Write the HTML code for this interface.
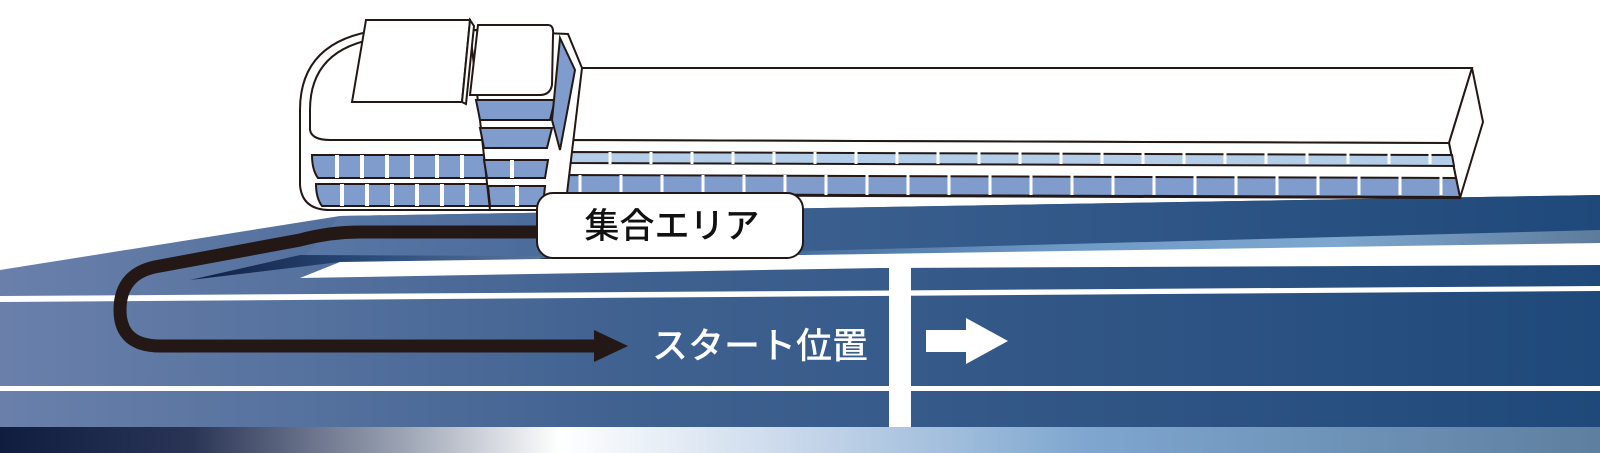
<!DOCTYPE html>
<html><head><meta charset="utf-8"><style>
html,body{margin:0;padding:0;background:#fff;}
svg{display:block}
text{font-family:"Liberation Sans","Noto Sans CJK JP",sans-serif;font-weight:500}
</style></head><body>
<svg width="1600" height="453" viewBox="0 0 1600 453" xmlns="http://www.w3.org/2000/svg">
<defs>
<linearGradient id="road" x1="0" x2="1" y1="0" y2="0">
<stop offset="0" stop-color="#6a80ab"/><stop offset="0.4" stop-color="#3f6190"/><stop offset="1" stop-color="#1f497a"/></linearGradient>
<linearGradient id="ramp" x1="0" x2="1"><stop offset="0" stop-color="#5a77a5"/><stop offset="0.4" stop-color="#3a5f8f"/><stop offset="1" stop-color="#1f497a"/></linearGradient>
<linearGradient id="band" x1="0" x2="1"><stop offset="0" stop-color="#0f1e42"/><stop offset="0.15" stop-color="#3a5f8f"/><stop offset="0.5" stop-color="#6f9ac6"/><stop offset="0.75" stop-color="#7ea7cf"/><stop offset="1" stop-color="#5d7c9c"/></linearGradient>
<linearGradient id="inner" x1="0" x2="1"><stop offset="0" stop-color="#0f1e42"/><stop offset="0.5" stop-color="#2a4a78"/><stop offset="1" stop-color="#56749c"/></linearGradient>
<linearGradient id="strip" x1="0" x2="1"><stop offset="0" stop-color="#101d3f"/><stop offset="0.12" stop-color="#2a3556"/><stop offset="0.25" stop-color="#9aa2b2"/><stop offset="0.35" stop-color="#ffffff"/><stop offset="0.5" stop-color="#c7d7ea"/><stop offset="0.68" stop-color="#7ea6cf"/><stop offset="1" stop-color="#5e7f9f"/></linearGradient>
</defs>
<polygon points="0,270 340,216 1600,195 1600,430 0,430" fill="url(#road)"/>
<polygon points="340,216 1600,195 1600,230 540,258 300,262" fill="url(#ramp)"/>
<polygon points="540,258 1600,230 1600,243 560,262" fill="url(#band)"/>
<polygon points="190,280 300,255 540,256 540,262 340,262" fill="url(#inner)"/>
<polygon points="300,278 340,262 1600,243 1600,265 880,268" fill="#fff"/>
<polygon points="0,296 1600,286 1600,291 0,302" fill="#fff"/>
<rect x="0" y="386" width="1600" height="5" fill="#fff"/>
<rect x="889" y="266" width="22" height="164" fill="#fff"/>
<rect x="0" y="427" width="1600" height="26" fill="url(#strip)"/>
<path d="M545,232 L360,232 Q330,232 300,240 L160,266 Q120,272 120,310 Q120,346 160,346 L598,346" fill="none" stroke="#231815" stroke-width="13"/>
<polygon points="594,330 628,346 594,362" fill="#231815"/>
<text x="652" y="358" font-size="36" fill="#fff">スタート位置</text>
<polygon points="926,330 966,330 966,318 1008,341 966,364 966,352 926,352" fill="#fff"/>
<g stroke="#231815" stroke-width="2">
<polygon points="580,68 1472,68 1449,143 570,140" fill="#fff"/>
<polygon points="1472,68 1483,122 1460,198 1449,143" fill="#fff"/>
<polygon points="568,140 1449,143 1460,198 565,195" fill="#fff"/>
<polygon points="568,152 1452,155 1454,166 568,163" fill="#b3cde8"/>
<polygon points="566,175 1456,178 1460,197 565,194" fill="#7f9ccc"/>
</g>
<g stroke="#fff" stroke-width="3">
<path d="M610,152v12M651,152v12M692,152v12M733,152v12M774,152v12M815,152v12M856,152v12M897,152v12M938,152v12M979,152v12M1020,152v12M1061,152v12M1102,152v12M1143,152v12M1184,152v12M1225,152v12M1266,152v12M1307,152v12M1348,152v12M1389,152v12M1430,152v12"/>
<path d="M580,175v20M621,175v20M662,175v20M703,175v20M744,175v20M785,175v20M826,175v20M867,175v20M908,175v20M949,175v20M990,175v20M1031,175v20M1072,175v20M1113,175v20M1154,175v20M1195,175v20M1236,175v20M1277,175v20M1318,175v20M1359,175v20M1400,175v20M1441,175v20"/>
</g>
<!-- left rounded block -->
<g stroke="#231815" stroke-width="2" fill="#fff">
<path d="M500,30 L380,30 Q300,40 300,110 L300,185 Q302,210 330,210 L500,210 Z"/>
<path d="M490,38 L380,38 Q310,48 310,110 L310,130 Q312,140 330,140 L490,140 Z"/>
<path d="M312,155 L490,155 L490,178 L318,178 Q312,170 312,155 Z" fill="#7f9ccc"/>
<path d="M316,184 L490,184 L490,206 L322,206 Q316,198 316,184 Z" fill="#7f9ccc"/>
<!-- tower -->
<path d="M470,30 L568,34 L582,68 L565,210 L490,210 Z" fill="#fff"/>
<path d="M476,100 L555,100 L550,120 L480,120 Z" fill="#7f9ccc"/>
<path d="M480,128 L552,128 L547,148 L484,148 Z" fill="#7f9ccc"/>
<path d="M484,160 L548,160 L545,178 L487,178 Z" fill="#7f9ccc"/>
<path d="M488,186 L545,186 L543,206 L490,206 Z" fill="#7f9ccc"/>
<path d="M560,38 L575,70 L560,150 L552,120 Z" fill="#7f9ccc"/>
<!-- top boxes -->
<polygon points="366,20 470,20 462,102 352,102" fill="#fff"/>
<polygon points="470,20 474,26 466,104 462,102" fill="#fff"/>
<path d="M478,25 L548,25 Q554,25 553,35 L552,85 Q550,95 540,95 L470,95 Z" fill="#fff"/>
</g>
<g fill="#fff">
<rect x="335" y="155" width="4" height="23"/><rect x="360" y="155" width="4" height="23"/><rect x="385" y="155" width="4" height="23"/><rect x="410" y="155" width="4" height="23"/><rect x="435" y="155" width="4" height="23"/><rect x="460" y="155" width="4" height="23"/><rect x="510" y="160" width="4" height="18"/>
<rect x="340" y="184" width="4" height="22"/><rect x="365" y="184" width="4" height="22"/><rect x="390" y="184" width="4" height="22"/><rect x="415" y="184" width="4" height="22"/><rect x="440" y="184" width="4" height="22"/><rect x="465" y="184" width="4" height="22"/><rect x="515" y="186" width="4" height="20"/>
</g>
<rect x="537" y="193" width="266" height="65" rx="16" fill="#fff" stroke="#231815" stroke-width="2"/>
<text x="672" y="238" font-size="35" fill="#111" text-anchor="middle">集合エリア</text>
</svg>
</body></html>
